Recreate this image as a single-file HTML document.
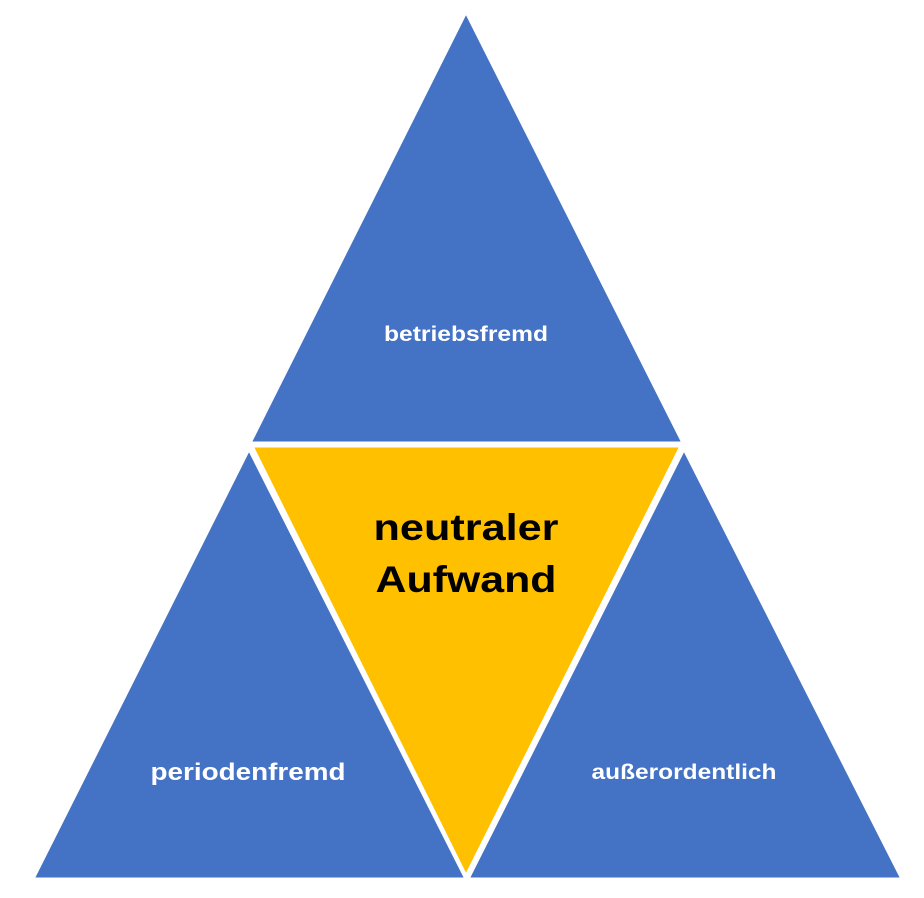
<!DOCTYPE html>
<html><head><style>html,body{margin:0;padding:0;background:#fff}</style></head>
<body>
<svg width="924" height="893" viewBox="0 0 924 893" xmlns="http://www.w3.org/2000/svg">
<rect width="924" height="893" fill="#fff"/>
<g stroke="#fff" stroke-width="3" stroke-linejoin="miter">
<polygon points="466,12 250,443 683,443" fill="#4472C4"/>
<polygon points="249,449 33,879 466,879" fill="#4472C4"/>
<polygon points="684,449 468,879 902,879" fill="#4472C4"/>
<polygon points="252,446 681,446 466,876" fill="#FFC000"/>
</g>
<g font-family="'Liberation Sans',sans-serif" font-weight="bold" text-anchor="middle" lengthAdjust="spacingAndGlyphs">
<text x="466" y="341" font-size="21" fill="#fff" textLength="164" lengthAdjust="spacingAndGlyphs">betriebsfremd</text>
<text x="248" y="780" font-size="24" fill="#fff" textLength="195" lengthAdjust="spacingAndGlyphs">periodenfremd</text>
<text x="684" y="779" font-size="21" fill="#fff" textLength="185" lengthAdjust="spacingAndGlyphs">außerordentlich</text>
<text x="466" y="540" font-size="37" fill="#000" textLength="185" lengthAdjust="spacingAndGlyphs">neutraler</text>
<text x="466" y="592" font-size="37" fill="#000" textLength="181" lengthAdjust="spacingAndGlyphs">Aufwand</text>
</g>
</svg>
</body></html>
